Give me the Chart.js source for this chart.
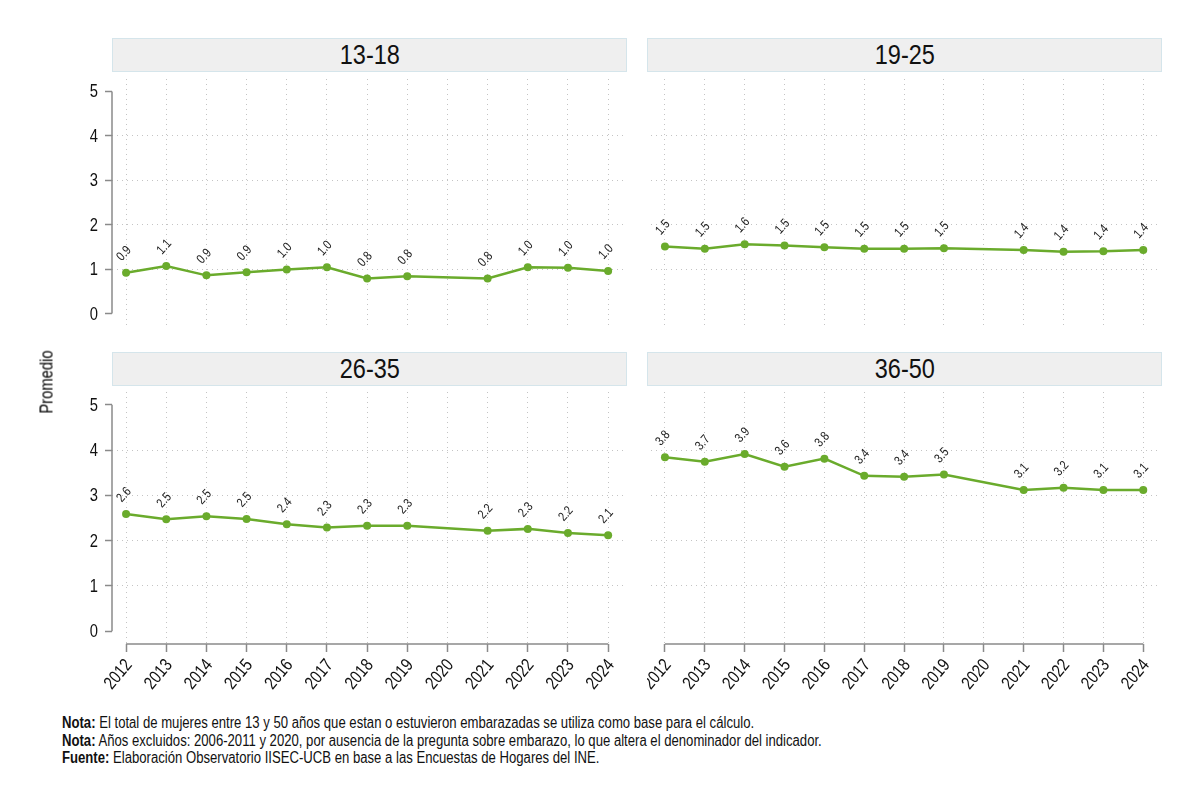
<!DOCTYPE html>
<html>
<head>
<meta charset="utf-8">
<script src="https://cdn.jsdelivr.net/npm/chart.js@4.4.1/dist/chart.umd.min.js"></script>
<style>
  body{margin:0;width:1200px;height:801px;background:#fff;position:relative;overflow:hidden;
       font-family:"Liberation Sans",Arial,sans-serif;color:#111}
  .strip{position:absolute;box-sizing:border-box;width:515px;height:34px;background:#efefef;
         border:1px solid #d5e5eb;text-align:center;font-size:28px;line-height:32px}
  .strip span{display:inline-block;transform:scaleX(0.84)}
  .box{position:absolute}
  #ytitle{position:absolute;left:47px;top:382px;transform:translate(-50%,-50%) rotate(-90deg) scaleX(0.82);font-size:18px;white-space:nowrap;color:#000}
  #notas{position:absolute;left:62px;top:714px;font-size:16px;line-height:17.5px;color:#111;
         transform:scaleX(0.82);transform-origin:0 0;white-space:nowrap}
</style>
</head>
<body>
<div class="strip" style="left:112px;top:38px"><span>13-18</span></div>
<div class="strip" style="left:647px;top:38px"><span>19-25</span></div>
<div class="strip" style="left:112px;top:352px"><span>26-35</span></div>
<div class="strip" style="left:647px;top:352px"><span>36-50</span></div>

<div class="box" style="left:40px;top:75px"><canvas id="c1" width="587" height="255"></canvas></div>
<div class="box" style="left:647px;top:75px"><canvas id="c2" width="515" height="255"></canvas></div>
<div class="box" style="left:40px;top:388px"><canvas id="c3" width="587" height="326"></canvas></div>
<div class="box" style="left:647px;top:388px"><canvas id="c4" width="515" height="326"></canvas></div>

<div id="ytitle">Promedio</div>
<div id="notas">
  <div><b>Nota:</b> El total de mujeres entre 13 y 50 años que estan o estuvieron embarazadas se utiliza como base para el cálculo.</div>
  <div><b>Nota:</b> Años excluidos: 2006-2011 y 2020, por ausencia de la pregunta sobre embarazo, lo que altera el denominador del indicador.</div>
  <div><b>Fuente:</b> Elaboración Observatorio IISEC-UCB en base a las Encuestas de Hogares del INE.</div>
</div>

<script>
// datos
const years = [2012, 2013, 2014, 2015, 2016, 2017, 2018, 2019, 2020, 2021, 2022, 2023, 2024];
const grupos = ['13-18', '19-25', '26-35', '36-50'];
const g1318 = [0.92, 1.07, 0.86, 0.93, 0.99, 1.04, 0.79, 0.84, null, 0.79, 1.04, 1.03, 0.96];
const g1925 = [1.51, 1.46, 1.56, 1.53, 1.49, 1.46, 1.46, 1.47, null, 1.43, 1.39, 1.40, 1.43];
const g2635 = [2.59, 2.47, 2.54, 2.48, 2.36, 2.29, 2.33, 2.33, null, 2.22, 2.26, 2.17, 2.12];
const g3650 = [3.84, 3.74, 3.91, 3.63, 3.81, 3.43, 3.41, 3.46, null, 3.12, 3.17, 3.12, 3.12];
const yTicks = [0, 1, 2, 3, 4, 5];

const verde = '#6aab2c';
const fam = '"Liberation Sans",Arial,sans-serif';
const gris = '#c4c4c4';
const angosto = 0.82; // simula Arial Narrow

// ejes y rotulos tipo stata
const ejes = {
  id: 'ejes',
  afterDraw(chart, args, opts) {
    const ctx = chart.ctx, a = chart.chartArea;
    const sx = chart.scales.x, sy = chart.scales.y;
    ctx.save();
    ctx.strokeStyle = '#8a8a8a';
    ctx.lineWidth = 1.5;
    ctx.fillStyle = '#111';
    if (opts.y) {
      ctx.beginPath();
      ctx.moveTo(a.left, sy.getPixelForValue(yTicks[0]));
      ctx.lineTo(a.left, sy.getPixelForValue(yTicks[yTicks.length - 1]));
      ctx.stroke();
      ctx.font = '18px ' + fam;
      ctx.textAlign = 'right';
      ctx.textBaseline = 'middle';
      yTicks.forEach(t => {
        ctx.save();
        ctx.translate(a.left - 14, sy.getPixelForValue(t) + 1);
        ctx.scale(angosto, 1);
        ctx.fillText(String(t), 0, 0);
        ctx.restore();
      });
    }
    if (opts.x) {
      ctx.beginPath();
      ctx.moveTo(sx.getPixelForValue(years[0]), a.bottom);
      ctx.lineTo(sx.getPixelForValue(years[years.length - 1]), a.bottom);
      ctx.stroke();
      ctx.font = '18px ' + fam;
      ctx.textAlign = 'right';
      ctx.textBaseline = 'middle';
      years.forEach(t => {
        ctx.save();
        ctx.translate(sx.getPixelForValue(t) + 3, a.bottom + 18);
        ctx.rotate(-50 * Math.PI / 180);
        ctx.scale(angosto, 1);
        ctx.fillText(String(t), 0, 0);
        ctx.restore();
      });
    }
    ctx.restore();
  }
};

// etiquetas de valores rotadas
const etiquetas = {
  id: 'etiquetas',
  afterDatasetsDraw(chart) {
    const ctx = chart.ctx;
    const meta = chart.getDatasetMeta(0);
    const ds = chart.data.datasets[0].data;
    ctx.save();
    ctx.fillStyle = '#222';
    ctx.font = '13px ' + fam;
    ctx.textAlign = 'center';
    ctx.textBaseline = 'middle';
    meta.data.forEach((pt, i) => {
      const v = ds[i].y;
      if (v === null) return;
      ctx.save();
      ctx.translate(pt.x - 2, pt.y - 19);
      ctx.rotate(-48 * Math.PI / 180);
      ctx.scale(angosto, 1);
      ctx.fillText(v.toFixed(1), 0, 0);
      ctx.restore();
    });
    ctx.restore();
  }
};

function panel(id, values, showY, showX) {
  new Chart(document.getElementById(id), {
    type: 'line',
    data: {
      datasets: [{
        data: years.map((y, i) => ({x: y, y: values[i]})),
        borderColor: verde,
        backgroundColor: verde,
        borderWidth: 2.5,
        pointRadius: 4,
        pointHoverRadius: 4,
        pointBorderWidth: 0,
        spanGaps: true,
        tension: 0,
        clip: false
      }]
    },
    options: {
      responsive: false,
      animation: false,
      events: [],
      layout: {padding: 0},
      plugins: {
        legend: {display: false},
        tooltip: {enabled: false},
        ejes: {x: showX, y: showY}
      },
      scales: {
        x: {
          type: 'linear',
          min: 2011.65,
          max: 2024.37,
          afterBuildTicks: s => { s.ticks = years.map(v => ({value: v})); },
          afterFit: s => { s.height = showX ? 70 : 0; },
          grid: {color: gris, lineWidth: 1, drawTicks: showX, tickLength: 8, tickColor: '#8a8a8a', tickWidth: 1.5},
          border: {display: false, dash: [1, 4]},
          ticks: {display: false}
        },
        y: {
          min: -0.28,
          max: 5.28,
          afterBuildTicks: s => { s.ticks = yTicks.map(v => ({value: v})); },
          afterFit: s => { s.width = showY ? 72 : 0; },
          grid: {
            color: c => (c.tick && (c.tick.value === 0 || c.tick.value === 5)) ? 'rgba(0,0,0,0)' : gris,
            lineWidth: 1, drawTicks: showY, tickLength: 7, tickColor: '#8a8a8a', tickWidth: 1.5
          },
          border: {display: false, dash: [1, 4]},
          ticks: {display: false}
        }
      }
    },
    plugins: [ejes, etiquetas]
  });
}

panel('c1', g1318, true, false);
panel('c2', g1925, false, false);
panel('c3', g2635, true, true);
panel('c4', g3650, false, true);
</script>
</body>
</html>
